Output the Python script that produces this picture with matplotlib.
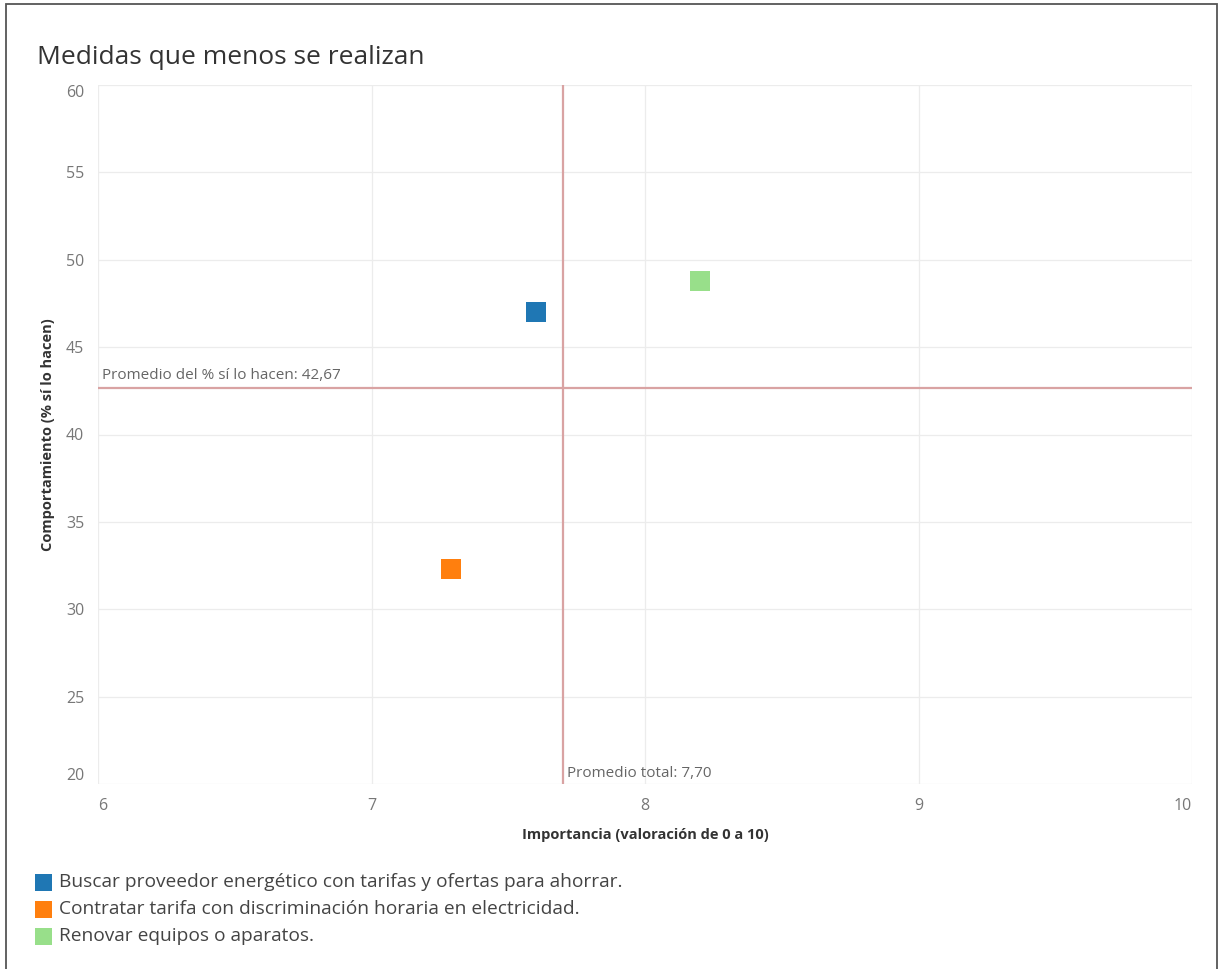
import matplotlib
matplotlib.use("Agg")
import matplotlib.pyplot as plt
from matplotlib.patches import Rectangle

plt.rcParams['font.family'] = ['Open Sans', 'DejaVu Sans']

# Data
medidas = [
    "Buscar proveedor energético con tarifas y ofertas para ahorrar.",
    "Contratar tarifa con discriminación horaria en electricidad.",
    "Renovar equipos o aparatos.",
]
importancia = [7.60, 7.29, 8.20]
comportamiento = [47.0, 32.3, 48.8]
colores = ["#1f77b4", "#ff7f0e", "#98df8a"]

promedio_importancia = 7.70
promedio_comportamiento = 42.67

x_ticks = [6, 7, 8, 9, 10]
y_ticks = [20, 25, 30, 35, 40, 45, 50, 55, 60]

W, H = 1218, 969
fig = plt.figure(figsize=(W / 100, H / 100), dpi=100)
fig.patch.set_facecolor("white")

# Outer frame
fig.add_artist(Rectangle((6 / W, -0.01), (1216.5 - 6) / W, 1 - 4 / H + 0.01,
                         transform=fig.transFigure, fill=False,
                         edgecolor="#555555", linewidth=1.3))

ax = fig.add_axes([98 / W, 1 - 784 / H, (1192 - 98) / W, (784 - 85) / H])
ax.set_xlim(6, 10)
ax.set_ylim(20, 60)
for s in ax.spines.values():
    s.set_visible(False)

ax.set_xticks(x_ticks)
ax.set_yticks(y_ticks)
ax.grid(True, color="#ececec", linewidth=0.9)
ax.set_axisbelow(True)
ax.tick_params(length=0, colors="#777777", labelsize=11.5)
ax.tick_params(axis="x", pad=10)
ax.tick_params(axis="y", pad=10)
ax.set_xticklabels([str(t) for t in x_ticks])
ax.set_yticklabels([str(t) for t in y_ticks])
xl = ax.get_xticklabels()
xl[0].set_horizontalalignment("left")
xl[-1].set_horizontalalignment("right")
yl = ax.get_yticklabels()
yl[0].set_verticalalignment("bottom")
yl[-1].set_verticalalignment("top")

# Reference lines
ref_color = "#d9a3a3"
ax.axhline(promedio_comportamiento, color=ref_color, linewidth=1.6, zorder=2)
ax.axvline(promedio_importancia, color=ref_color, linewidth=1.6, zorder=2)
ax.text(6.015, promedio_comportamiento + 0.3,
        "Promedio del % sí lo hacen: " + f"{promedio_comportamiento:.2f}".replace(".", ","),
        fontsize=11, color="#666666", va="bottom", ha="left")
ax.text(promedio_importancia + 0.015, 20.2,
        "Promedio total: " + f"{promedio_importancia:.2f}".replace(".", ","),
        fontsize=11, color="#666666", va="bottom", ha="left")

# Points
for x, y, c in zip(importancia, comportamiento, colores):
    ax.plot(x, y, marker="s", markersize=13.8, color=c, markeredgewidth=0,
            linestyle="none", zorder=3)

ax.set_xlabel("Importancia (valoración de 0 a 10)", fontsize=10.5, fontweight="bold",
              color="#333333", labelpad=10)
ax.set_ylabel("Comportamiento (% sí lo hacen)", fontsize=10.5, fontweight="bold",
              color="#333333", labelpad=8)

# Title
fig.text(37 / W, 1 - 58 / H, "Medidas que menos se realizan", fontsize=19,
         color="#333333", va="center", ha="left")

# Legend
leg_y = [882, 909, 936]
for name, c, yy in zip(medidas, colores, leg_y):
    fig.add_artist(Rectangle((35 / W, 1 - (yy + 9) / H), 17 / W, 17 / H,
                             transform=fig.transFigure, facecolor=c, edgecolor="none"))
    fig.text(59 / W, 1 - yy / H, name, fontsize=13.8, color="#444444",
             va="center", ha="left")

fig.savefig("out.png", dpi=100, facecolor="white")
